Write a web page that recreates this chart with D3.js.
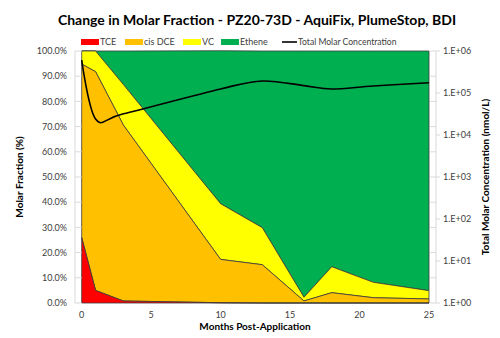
<!DOCTYPE html>
<html>
<head>
<meta charset="utf-8">
<script src="https://cdn.jsdelivr.net/npm/d3@7"></script>
<style>
  body { margin: 0; background: #fff; }
  svg { font-family: Lato, "Liberation Sans", sans-serif; }
</style>
</head>
<body>
<svg id="chart" width="500" height="338"></svg>
<script>
// months after application
const months = [0, 1, 3, 10, 13, 16, 18, 21, 25];
// molar fraction (%) of each compound
const tce    = [26, 5, 0.8, 0.1, 0, 0, 0, 0, 0];
const cisDce = [68.8, 86.8, 69.8, 17.2, 15.2, 0.8, 4.1, 2.1, 1.6];
const vc     = [5.2, 8.2, 16.1, 22.1, 14.7, 1.5, 10.3, 6.1, 3.3];
const ethene = [0, 0, 13.3, 60.7, 70.1, 97.7, 85.6, 91.8, 95.1];
// total molar concentration (nmol/L)
const total  = [610000, 24000, 32000, 125000, 193000, 150000, 125000, 147000, 176000];

const seriesNames = ["TCE", "cis DCE", "VC", "Ethene"];
const colors = ["#ff0000", "#ffc000", "#ffff00", "#00b050"];
const leftTicks = [0, 10, 20, 30, 40, 50, 60, 70, 80, 90, 100];
const rightTicks = [1, 10, 100, 1000, 10000, 100000, 1000000];
const xTicks = [0, 5, 10, 15, 20, 25];

const svg = d3.select("#chart");
const margin = {left: 81.7, right: 429, top: 51, bottom: 303};

const x = d3.scaleLinear().domain([0, 25]).range([margin.left, margin.right]);
const y = d3.scaleLinear().domain([0, 100]).range([margin.bottom, margin.top]);
const yLog = d3.scaleLog().domain([1, 1e6]).range([margin.bottom, margin.top]);

// build rows for stacking
const rows = months.map((m, i) => ({
  month: m, "TCE": tce[i], "cis DCE": cisDce[i], "VC": vc[i], "Ethene": ethene[i]
}));
const stacked = d3.stack().keys(seriesNames)(rows);

const area = d3.area()
  .x(d => x(d.data.month))
  .y0(d => y(d[0]))
  .y1(d => y(d[1]));

// areas, drawn top-down so outlines sit right
svg.append("g").selectAll("path")
  .data(stacked.slice().reverse())
  .join("path")
  .attr("d", area)
  .attr("fill", (d) => colors[seriesNames.indexOf(d.key)])
  .attr("stroke", "#3a3a3a")
  .attr("stroke-width", 0.8)
  .attr("stroke-linejoin", "round");

// left axis
const gl = svg.append("g").attr("transform", `translate(75,0)`);
gl.append("line").attr("y1", y(0)).attr("y2", y(100)).attr("stroke", "#d9d9d9");
gl.selectAll(".tk").data(leftTicks).join("line")
  .attr("x1", 0).attr("x2", margin.left - 75)
  .attr("y1", d => y(d)).attr("y2", d => y(d))
  .attr("stroke", "#d9d9d9");
gl.selectAll("text").data(leftTicks).join("text")
  .attr("x", -8).attr("y", d => y(d)).attr("dy", "0.35em")
  .attr("text-anchor", "end").attr("font-size", 9).attr("fill", "#404040")
  .text(d => d3.format(".1f")(d) + "%");

// right axis
const gr = svg.append("g").attr("transform", `translate(436,0)`);
gr.append("line").attr("y1", y(0)).attr("y2", y(100)).attr("stroke", "#d9d9d9");
gr.selectAll(".mk").data(leftTicks).join("line")
  .attr("x1", -6).attr("x2", 0)
  .attr("y1", d => y(d)).attr("y2", d => y(d))
  .attr("stroke", "#d9d9d9");
gr.selectAll(".mj").data(rightTicks).join("line")
  .attr("x1", 0).attr("x2", 4)
  .attr("y1", d => yLog(d)).attr("y2", d => yLog(d))
  .attr("stroke", "#d9d9d9");
gr.selectAll("text").data(rightTicks).join("text")
  .attr("x", 7).attr("y", d => yLog(d)).attr("dy", "0.35em")
  .attr("font-size", 9).attr("fill", "#404040")
  .text(d => "1.E+" + String(Math.round(Math.log10(d))).padStart(2, "0"));

// x axis labels
svg.append("g").selectAll("text").data(xTicks).join("text")
  .attr("x", d => x(d)).attr("y", 318)
  .attr("text-anchor", "middle").attr("font-size", 9).attr("fill", "#404040")
  .text(d => d);

// total molar concentration line
const line = d3.line()
  .x((d, i) => x(months[i]))
  .y(d => yLog(d))
  .curve(d3.curveCardinal.tension(0));
svg.append("path")
  .attr("d", line(total))
  .attr("fill", "none")
  .attr("stroke", "#000")
  .attr("stroke-width", 1.6);

// title
svg.append("text")
  .attr("x", 257).attr("y", 25)
  .attr("text-anchor", "middle").attr("font-size", 14).attr("font-weight", "bold")
  .attr("fill", "#000")
  .text("Change in Molar Fraction - PZ20-73D - AquiFix, PlumeStop, BDI");

// axis titles
svg.append("text")
  .attr("x", 255).attr("y", 330)
  .attr("text-anchor", "middle").attr("font-size", 10).attr("font-weight", "bold")
  .text("Months Post-Application");
svg.append("text")
  .attr("transform", "translate(23,177) rotate(-90)")
  .attr("text-anchor", "middle").attr("font-size", 10).attr("font-weight", "bold")
  .text("Molar Fraction (%)");
svg.append("text")
  .attr("transform", "translate(489,177) rotate(-90)")
  .attr("text-anchor", "middle").attr("font-size", 10).attr("font-weight", "bold")
  .text("Total Molar Concentration (nmol/L)");

// legend
const legendX = [81, 125, 183, 221];
const lg = svg.append("g");
seriesNames.forEach((name, i) => {
  lg.append("rect")
    .attr("x", legendX[i]).attr("y", 39).attr("width", 18).attr("height", 6)
    .attr("fill", colors[i]);
  lg.append("text")
    .attr("x", legendX[i] + 19).attr("y", 42).attr("dy", "0.35em")
    .attr("font-size", 9).attr("fill", "#404040").text(name);
});
lg.append("line").attr("x1", 282).attr("x2", 297).attr("y1", 42).attr("y2", 42)
  .attr("stroke", "#000").attr("stroke-width", 1.6);
lg.append("text").attr("x", 298).attr("y", 42).attr("dy", "0.35em")
  .attr("font-size", 8.6).attr("fill", "#404040").text("Total Molar Concentration");
</script>
</body>
</html>
